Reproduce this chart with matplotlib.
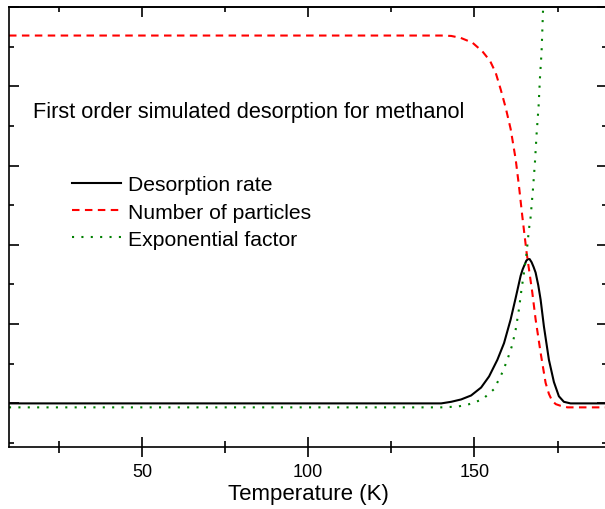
import matplotlib
matplotlib.use('Agg')
import matplotlib.pyplot as plt
from matplotlib.ticker import MultipleLocator, NullFormatter

plt.rcParams['font.family'] = ['Liberation Sans', 'DejaVu Sans']

# desorption rate (arb. units) vs temperature
temp_rate = [10, 130, 140, 143, 146, 149, 152, 154.4, 156.9, 158.9, 160.9, 162.4,
             163.9, 164.5, 165.1, 165.6, 166.1, 166.6, 167.2, 167.8, 168.4, 169.2,
             169.9, 170.9, 172.4, 173.9, 175.4, 176.9, 178.9, 190]
rate = [0, 0, 0, 0.02, 0.05, 0.10, 0.20, 0.34, 0.55, 0.76, 1.06, 1.33,
        1.61, 1.69, 1.75, 1.80, 1.82, 1.82, 1.78, 1.72, 1.65, 1.49,
        1.31, 0.97, 0.55, 0.27, 0.09, 0.02, 0, 0]

# number of particles still on the surface
temp_n = [10, 140, 143, 145.9, 149.4, 152.4, 154.7, 156.4, 157.9, 159.4, 160.9, 162.4,
          163.4, 164.4, 165.7, 167.4, 168.4, 169.9, 171.4, 172.4, 173.4, 174.5,
          175.9, 178, 190]
n_part = [4.64, 4.64, 4.635, 4.61, 4.55, 4.44, 4.32, 4.17, 3.96, 3.73, 3.46, 3.08,
          2.74, 2.36, 1.90, 1.40, 1.06, 0.64, 0.26, 0.12, 0.03, -0.01,
          -0.03, -0.05, -0.05]

# Arrhenius exponential factor
temp_exp = [10, 140, 145, 148.4, 152.4, 155.9, 158.4, 159.9, 161.4, 162.4, 163.4,
            164.1, 164.9, 165.7, 166.4, 166.9, 167.6, 168.2, 168.7, 169.3, 169.7,
            170.2, 170.6, 170.75]
exp_fac = [-0.05, -0.05, -0.04, -0.01, 0.05, 0.18, 0.39, 0.55, 0.74, 0.93, 1.19,
           1.42, 1.65, 1.90, 2.20, 2.35, 2.70, 3.04, 3.40, 3.75, 4.10,
           4.44, 4.92, 5.1]

fig = plt.figure(figsize=(6.05, 5.10), dpi=100)
ax = fig.add_axes([9 / 605, 1 - 448 / 510, 1.004 - 9 / 605, (448 - 8) / 510])

ax.plot(temp_rate, rate, color='black', lw=1.5, label='Desorption rate')
ax.plot(temp_n, n_part, color='#ff0000', lw=1.5, linestyle=(0, (3.6, 2.6)),
        label='Number of particles')
ax.plot(temp_exp, exp_fac, color='#008000', lw=1.5, linestyle=(0, (1, 3.5)),
        label='Exponential factor')

ax.set_xlim(10, 190)
ax.set_ylim(-0.55, 5)

ax.xaxis.set_major_locator(MultipleLocator(50))
ax.xaxis.set_minor_locator(MultipleLocator(25))
ax.yaxis.set_major_locator(MultipleLocator(1))
ax.yaxis.set_minor_locator(MultipleLocator(0.5))
ax.yaxis.set_major_formatter(NullFormatter())

for s in ax.spines.values():
    s.set_linewidth(1.2)

# bottom ticks cross the axis, the rest point inwards
ax.tick_params(axis='x', which='both', direction='inout', top=False, labelsize=13,
               width=1.2, pad=4.5)
ax.tick_params(axis='x', which='major', length=14)
ax.tick_params(axis='x', which='minor', length=8)
ax.tick_params(axis='y', which='both', direction='in', right=True, width=1.2)
ax.tick_params(axis='y', which='major', length=7)
ax.tick_params(axis='y', which='minor', length=3.5)

top = ax.secondary_xaxis('top')
top.xaxis.set_major_locator(MultipleLocator(50))
top.xaxis.set_minor_locator(MultipleLocator(25))
top.xaxis.set_major_formatter(NullFormatter())
top.spines['top'].set_linewidth(1.2)
top.tick_params(which='both', direction='in', width=1.2)
top.tick_params(which='major', length=7)
top.tick_params(which='minor', length=3.5)

ax.set_xlabel('Temperature (K)', fontsize=16, labelpad=2.5)

fig.text(33 / 605, 1 - 118 / 510, 'First order simulated desorption for methanol',
         fontsize=15.7, ha='left', va='baseline')

ax.legend(loc='center left', bbox_to_anchor=(72 / 605, 1 - 213 / 510),
          bbox_transform=fig.transFigure, frameon=False, fontsize=15.2,
          handlelength=2.3, handletextpad=0.35, labelspacing=0.38,
          borderpad=0, borderaxespad=0)

fig.savefig('out.png', dpi=100)
